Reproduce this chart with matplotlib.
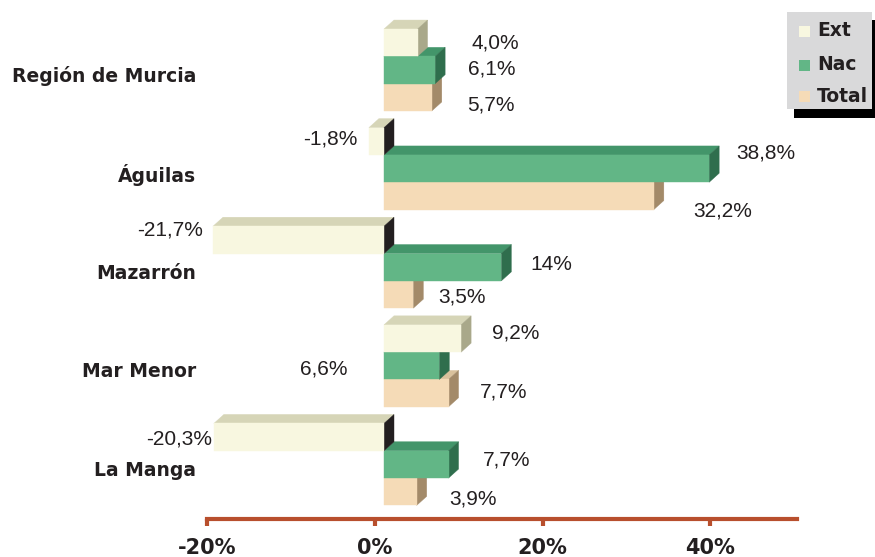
import matplotlib
matplotlib.use('Agg')
import matplotlib.pyplot as plt
from matplotlib.patches import Polygon, Rectangle

# Data
CATEGORIES = ['Región de Murcia', 'Águilas', 'Mazarrón', 'Mar Menor', 'La Manga']
SERIES = ['Ext', 'Nac', 'Total']
EXT = [4.0, -1.8, -21.7, 9.2, -20.3]
NAC = [6.1, 38.8, 14.0, 6.6, 7.7]
TOTAL = [5.7, 32.2, 3.5, 7.7, 3.9]
EXT_LABELS = ['4,0%', '-1,8%', '-21,7%', '9,2%', '-20,3%']
NAC_LABELS = ['6,1%', '38,8%', '14%', '6,6%', '7,7%']
TOTAL_LABELS = ['5,7%', '32,2%', '3,5%', '7,7%', '3,9%']
TICKS = [-20, 0, 20, 40]
TICK_LABELS = ['-20%', '0%', '20%', '40%']

# Label nudges in pixels (x from bar end, y downwards from bar centre)
EXT_DX = [44, -11, -10, 21, -2]
EXT_DY = [0, -2, -10, -5, 2]
NAC_DX = [23, 17, 19, -102, 24]
NAC_DY = [-1, -16, -3, 3, -4]
TOTAL_DX = [25, 29, 15, 21, 23]
TOTAL_DY = [8, 15, 3, -1, 7]

# Colours: front, top, side
COLORS = {
    'Ext': ('#f8f7e0', '#d6d5b7', '#a9a88a'),
    'Nac': ('#62b686', '#43956a', '#2f6e4d'),
    'Total': ('#f5dbb7', '#d9c19c', '#a38a69'),
}
DARK = '#231f20'
AXIS_C = '#b84f2d'
TEXT_C = '#231f20'

# Geometry (pixels of the 875x557 picture)
W, H = 875, 557
PX_PER_PCT = 8.38
ZERO_PX = 375
GROUP_PX = 98.6
FIRST_PX = 70
X0 = 9 / PX_PER_PCT          # bars start slightly right of the axis zero
CLIP_LEFT = (213 - ZERO_PX) / PX_PER_PCT   # plot area edge, long bars are cut here
BAR_H = 27.3 / GROUP_PX
DX = 10 / PX_PER_PCT         # depth offset
DY = 9 / GROUP_PX


def bar_span(v):
    lo, hi = min(X0, X0 + v), max(X0, X0 + v)
    return max(lo, CLIP_LEFT), hi


def draw_bar(ax, y_top, v, colors):
    front, top, side = colors
    lo, hi = bar_span(v)
    yb = y_top + BAR_H
    ax.add_patch(Polygon([(lo, y_top), (lo + DX, y_top - DY), (hi + DX, y_top - DY), (hi, y_top)],
                         closed=True, fc=top, ec=top, lw=0.3))
    side_c = side if v >= 0 else DARK
    ax.add_patch(Polygon([(hi, y_top), (hi + DX, y_top - DY), (hi + DX, yb - DY), (hi, yb)],
                         closed=True, fc=side_c, ec=side_c, lw=0.3))
    ax.add_patch(Rectangle((lo, y_top), hi - lo, BAR_H, fc=front, ec=front, lw=0.3))


def fig_box(x, y, w, h):
    return (x / W, 1 - (y + h) / H), w / W, h / H


fig = plt.figure(figsize=(W / 100, H / 100), dpi=100)
ax = fig.add_axes([0, 0, 1, 1])
ax.set_xlim(-ZERO_PX / PX_PER_PCT, (W - ZERO_PX) / PX_PER_PCT)
ax.set_ylim((H - FIRST_PX) / GROUP_PX, -FIRST_PX / GROUP_PX)

values = {'Ext': EXT, 'Nac': NAC, 'Total': TOTAL}
labels = {'Ext': EXT_LABELS, 'Nac': NAC_LABELS, 'Total': TOTAL_LABELS}
nudges = {'Ext': (EXT_DX, EXT_DY), 'Nac': (NAC_DX, NAC_DY), 'Total': (TOTAL_DX, TOTAL_DY)}

# draw from the bottom up so upper bars hide lower top faces
for g in reversed(range(len(CATEGORIES))):
    for s_idx in reversed(range(len(SERIES))):
        s = SERIES[s_idx]
        y_top = g + (s_idx - 1.5) * BAR_H
        draw_bar(ax, y_top, values[s][g], COLORS[s])

for g, cat in enumerate(CATEGORIES):
    ax.text((196 - ZERO_PX) / PX_PER_PCT, g + 0.06, cat, ha='right', va='center',
            fontsize=13.5, fontweight='bold', color=TEXT_C)
    for s_idx, s in enumerate(SERIES):
        v = values[s][g]
        dxs, dys = nudges[s]
        yc = g + (s_idx - 1) * BAR_H
        lo, hi = bar_span(v)
        xa = hi + DX if v >= 0 else lo
        ha = 'right' if (v < 0 or dxs[g] < 0) else 'left'
        ax.annotate(labels[s][g], xy=(xa, yc), xytext=(dxs[g], -dys[g]),
                    textcoords='offset pixels', ha=ha, va='center',
                    fontsize=15, family='Liberation Sans', color=TEXT_C)

# bottom axis
for side in ['top', 'left', 'right']:
    ax.spines[side].set_visible(False)
axis_y = (519 - FIRST_PX) / GROUP_PX
ax.spines['bottom'].set_position(('data', axis_y))
ax.spines['bottom'].set_bounds(-20, (797 - ZERO_PX) / PX_PER_PCT)
ax.spines['bottom'].set_color(AXIS_C)
ax.spines['bottom'].set_linewidth(3)
ax.set_xticks(TICKS, TICK_LABELS)
ax.set_yticks([])
ax.tick_params(axis='x', direction='out', length=5, width=3, color=AXIS_C,
               pad=8.5, labelsize=15, labelcolor=TEXT_C)
for lbl in ax.get_xticklabels():
    lbl.set_fontweight('bold')
ax.patch.set_visible(False)

# legend box with hard shadow
xy, w, h = fig_box(794, 20, 85, 98)
fig.add_artist(Rectangle(xy, w, h, transform=fig.transFigure, fc='black', ec='none'))
xy, w, h = fig_box(787, 12, 85, 97)
fig.add_artist(Rectangle(xy, w, h, transform=fig.transFigure, fc='#d9d9da', ec='none'))
for s, ty in zip(SERIES, [31, 65, 96]):
    xy, w, h = fig_box(799, ty - 5, 11, 11)
    fig.add_artist(Rectangle(xy, w, h, transform=fig.transFigure, fc=COLORS[s][0], ec='none'))
    fig.text(817 / W, 1 - ty / H, s, ha='left', va='center', fontsize=13.5,
             fontweight='bold', color=TEXT_C)

fig.savefig('out.png', dpi=100, facecolor='white')
